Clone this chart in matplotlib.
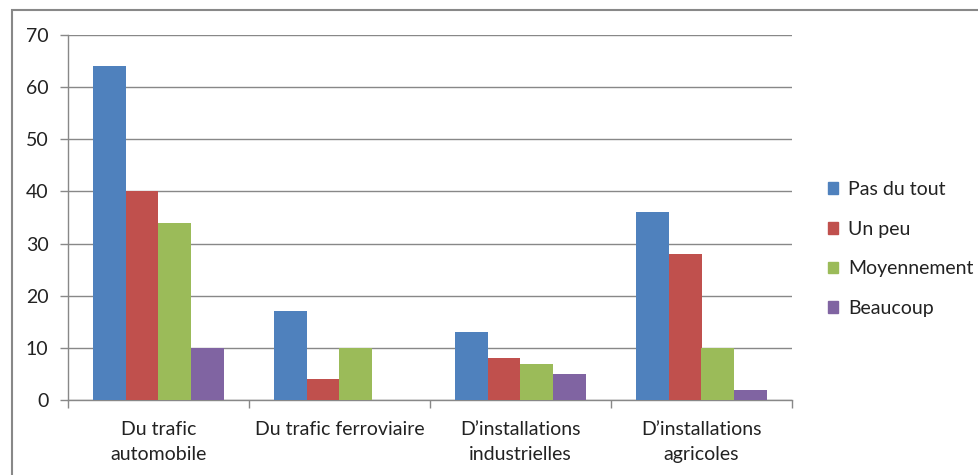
import matplotlib
matplotlib.use("Agg")
import matplotlib.pyplot as plt
import numpy as np
from matplotlib.patches import Rectangle, Patch

categories = ["Du trafic\nautomobile", "Du trafic ferroviaire",
              "D\u2019installations\nindustrielles", "D\u2019installations\nagricoles"]
series_names = ["Pas du tout", "Un peu", "Moyennement", "Beaucoup"]
pas_du_tout = [64, 17, 13, 36]
un_peu = [40, 4, 8, 28]
moyennement = [34, 10, 7, 10]
beaucoup = [10, 0, 5, 2]
yticks = [0, 10, 20, 30, 40, 50, 60, 70]

colors = ["#4F81BD", "#C0504D", "#9BBB59", "#8064A2"]
values = [pas_du_tout, un_peu, moyennement, beaucoup]

plt.rcParams['font.family'] = ['Lato', 'DejaVu Sans']
FS = 14

W, H = 979, 475
fig = plt.figure(figsize=(W / 100, H / 100), dpi=100)
ax = fig.add_axes([68 / W, 1 - 400 / H, (792 - 68) / W, (400 - 35) / H])

x = np.arange(len(categories))
bw = 0.18
for i, (name, vals) in enumerate(zip(series_names, values)):
    ax.bar(x + (i - 1.5) * bw, vals, width=bw, color=colors[i], label=name,
           linewidth=0, zorder=3)

ax.set_xlim(-0.5, len(categories) - 0.5)
ax.set_ylim(0, 70)
ax.set_yticks(yticks)
ax.set_yticklabels([str(t) for t in yticks], fontsize=FS, color="#222222")
ax.yaxis.grid(True, color="#888888", linewidth=1.0, zorder=0)
ax.set_xticks(x)
ax.set_xticklabels(categories, fontsize=FS, color="#222222", linespacing=1.6)
ax.set_xticks(np.arange(len(categories) + 1) - 0.5, minor=True)
ax.tick_params(axis='x', which='major', length=0, pad=15)
ax.tick_params(axis='x', which='minor', length=6, color="#888888", width=1.0)
ax.tick_params(axis='y', length=6, color="#888888", width=1.0, pad=8)

for s in ['top', 'right']:
    ax.spines[s].set_visible(False)
for s in ['left', 'bottom']:
    ax.spines[s].set_color("#888888")
    ax.spines[s].set_linewidth(1.0)

handles = [Patch(facecolor=c, edgecolor=c) for c in colors]
leg = fig.legend(handles, series_names, loc='upper left',
                 bbox_to_anchor=(820 / W, 1 - 173 / H), frameon=False,
                 fontsize=FS, handlelength=0.55, handleheight=0.55,
                 handletextpad=0.5, labelspacing=1.17, borderaxespad=0)
for t in leg.get_texts():
    t.set_color("#222222")

# outer chart frame (extends beyond image right/bottom)
fig.patches.append(Rectangle((12 / W, -0.1), 1.2, 1 - 10 / H + 0.1,
                             transform=fig.transFigure, fill=False,
                             edgecolor="#888888", linewidth=1.5))

fig.savefig("out.png", dpi=100)
